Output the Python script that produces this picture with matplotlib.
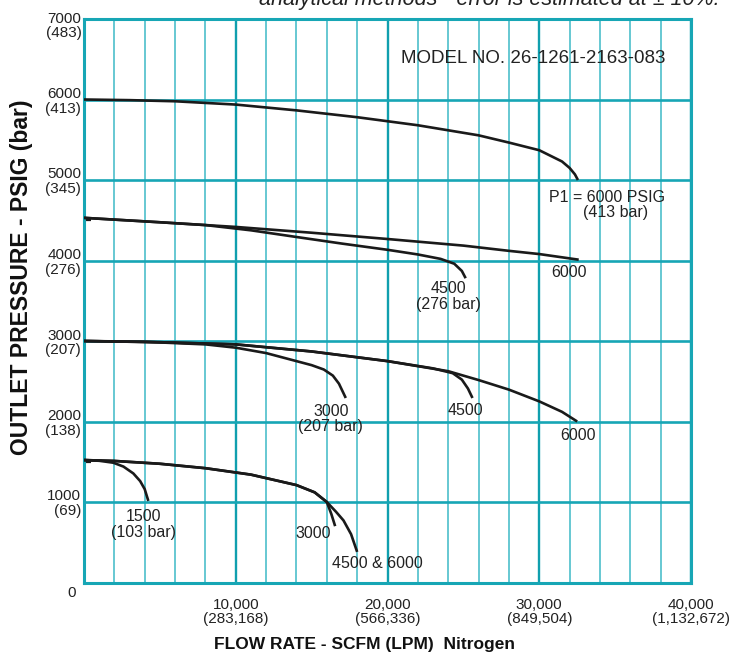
import matplotlib
matplotlib.use('Agg')
import matplotlib.pyplot as plt
from matplotlib.ticker import FixedLocator

plt.rcParams['font.family'] = ['Liberation Sans', 'DejaVu Sans']

# flow rate (SCFM) / outlet pressure (PSIG)
# P1 = 6000 PSIG, outlet set at 6000
top_x = [0, 3000, 6000, 10000, 14000, 18000, 22000, 26000, 28000, 30000, 31500, 32000, 32350, 32550]
top_y = [6000, 5992, 5978, 5937, 5865, 5780, 5680, 5555, 5465, 5370, 5230, 5150, 5070, 5000]

# outlet set at 4500
o45_6000_x = [0, 5000, 10000, 15000, 20000, 25000, 28000, 30000, 32600]
o45_6000_y = [4530, 4475, 4417, 4345, 4267, 4185, 4120, 4080, 4010]
o45_4500_x = [0, 5000, 8000, 11000, 14000, 17000, 20000, 22000, 23500, 24400, 24900, 25150]
o45_4500_y = [4530, 4475, 4440, 4375, 4292, 4210, 4133, 4075, 4020, 3960, 3870, 3780]

# outlet set at 3000
o30_6000_x = [0, 5000, 10000, 15000, 20000, 24000, 26000, 28000, 30000, 31500, 32500]
o30_6000_y = [3000, 2985, 2958, 2870, 2750, 2625, 2515, 2396, 2250, 2120, 2000]
o30_4500_x = [0, 5000, 10000, 15000, 20000, 23000, 24300, 24900, 25300, 25600]
o30_4500_y = [3000, 2985, 2958, 2870, 2750, 2660, 2600, 2520, 2410, 2292]
o30_3000_x = [0, 4000, 8000, 10000, 12000, 14000, 15000, 15800, 16400, 16800, 17250]
o30_3000_y = [3000, 2990, 2958, 2917, 2850, 2750, 2700, 2646, 2570, 2470, 2292]

# outlet set at 1500
o15_hi_x = [0, 2000, 5000, 8000, 11000, 14000, 15200, 16000, 16600, 17100, 17600, 18000]
o15_hi_y = [1521, 1510, 1475, 1420, 1340, 1210, 1120, 1000, 880, 771, 600, 380]
o15_3000_x = [0, 2000, 5000, 8000, 11000, 14000, 15200, 16000, 16300, 16550]
o15_3000_y = [1521, 1510, 1475, 1420, 1340, 1210, 1120, 1000, 850, 700]
o15_1500_x = [0, 1000, 1930, 2600, 3250, 3700, 4000, 4240]
o15_1500_y = [1521, 1512, 1488, 1440, 1355, 1260, 1160, 1013]

curves = [(top_x, top_y), (o45_6000_x, o45_6000_y), (o45_4500_x, o45_4500_y),
	(o30_6000_x, o30_6000_y), (o30_4500_x, o30_4500_y), (o30_3000_x, o30_3000_y),
	(o15_hi_x, o15_hi_y), (o15_3000_x, o15_3000_y), (o15_1500_x, o15_1500_y)]

y_ticks = [1000, 2000, 3000, 4000, 5000, 6000]
y_tick_labels = ["1000\n(69)", "2000\n(138)", "3000\n(207)", "4000\n(276)", "5000\n(345)", "6000\n(413)"]
x_ticks = [10000, 20000, 30000, 40000]
x_tick_labels = ["10,000\n(283,168)", "20,000\n(566,336)", "30,000\n(849,504)", "40,000\n(1,132,672)"]
inlet_marks = [1500, 3000, 4500, 6000]

# curve labels: (x, y, text)
curve_labels = [
	(34460, 4786, "P1 = 6000 PSIG"),
	(35050, 4591, "(413 bar)"),
	(31970, 3848, "6000"),
	(24000, 3551, "4500\n(276 bar)"),
	(25120, 2142, "4500"),
	(32560, 1831, "6000"),
	(16260, 2032, "3000\n(207 bar)"),
	(3910, 724, "1500\n(103 bar)"),
	(15120, 614, "3000"),
	(19360, 240, "4500 & 6000"),
]

TEAL = "#17a6b5"
LIGHT_TEAL = "#4dbfcb"

fig = plt.figure(figsize=(7.34, 6.54), dpi=100)
ax = fig.add_axes([84 / 734, 1 - 582.5 / 654, (691 - 84) / 734, (582.5 - 19) / 654])

for xs, ys in curves:
	ax.plot(xs, ys, color="#1a1a1a", lw=1.9, solid_capstyle="butt", zorder=3)

ax.set_xlim(0, 40000)
ax.set_ylim(0, 7000)

ax.set_xticks(x_ticks)
ax.set_xticklabels(x_tick_labels, fontsize=11, linespacing=1.05, color="#222222")
ax.xaxis.set_minor_locator(FixedLocator(range(2000, 40000, 2000)))
ax.tick_params(axis="x", which="both", length=0, pad=11)

ax.set_yticks(y_ticks)
ax.set_yticklabels(y_tick_labels, fontsize=11, linespacing=1.05, color="#222222")
ax.yaxis.set_minor_locator(FixedLocator(inlet_marks))
ax.tick_params(axis="y", which="major", length=0, pad=2)
ax.tick_params(axis="y", which="minor", length=5, width=1.6, color="#1a1a1a", direction="in")

ax.set_axisbelow(True)
ax.xaxis.grid(True, which="minor", color=LIGHT_TEAL, lw=1.2)
ax.xaxis.grid(True, which="major", color="#109fae", lw=1.7)
ax.yaxis.grid(True, which="major", color=TEAL, lw=1.9)

for spine in ax.spines.values():
	spine.set_color(TEAL)
	spine.set_linewidth(2.2)

ax.text(-170, 7090, "7000\n(483)", ha="right", va="top", fontsize=11, linespacing=1.05,
	color="#222222")
ax.text(-550, -130, "0", ha="right", va="center", fontsize=11, color="#222222")

for x, y, label in curve_labels:
	ax.text(x, y, label, ha="center", va="center", fontsize=11.5, linespacing=1.05,
		color="#222222", zorder=4)

ax.text(29620, 6513, "MODEL NO. 26-1261-2163-083", ha="center", va="center",
	fontsize=13.5, color="#222222")

fig.text(22 / 734, 1 - 277 / 654, "OUTLET PRESSURE - PSIG (bar)", rotation=90,
	ha="center", va="center", fontsize=16.5, fontweight="bold", color="#111111")
fig.text(364.5 / 734, 1 - 644 / 654, "FLOW RATE - SCFM (LPM)  Nitrogen",
	ha="center", va="center", fontsize=12.5, fontweight="bold", color="#111111")
fig.text(720 / 734, 1.0, "analytical methods - error is estimated at \u00b1 10%.",
	ha="right", va="center", fontsize=15.5, style="italic", color="#222222")

plt.savefig("out.png", dpi=100)
